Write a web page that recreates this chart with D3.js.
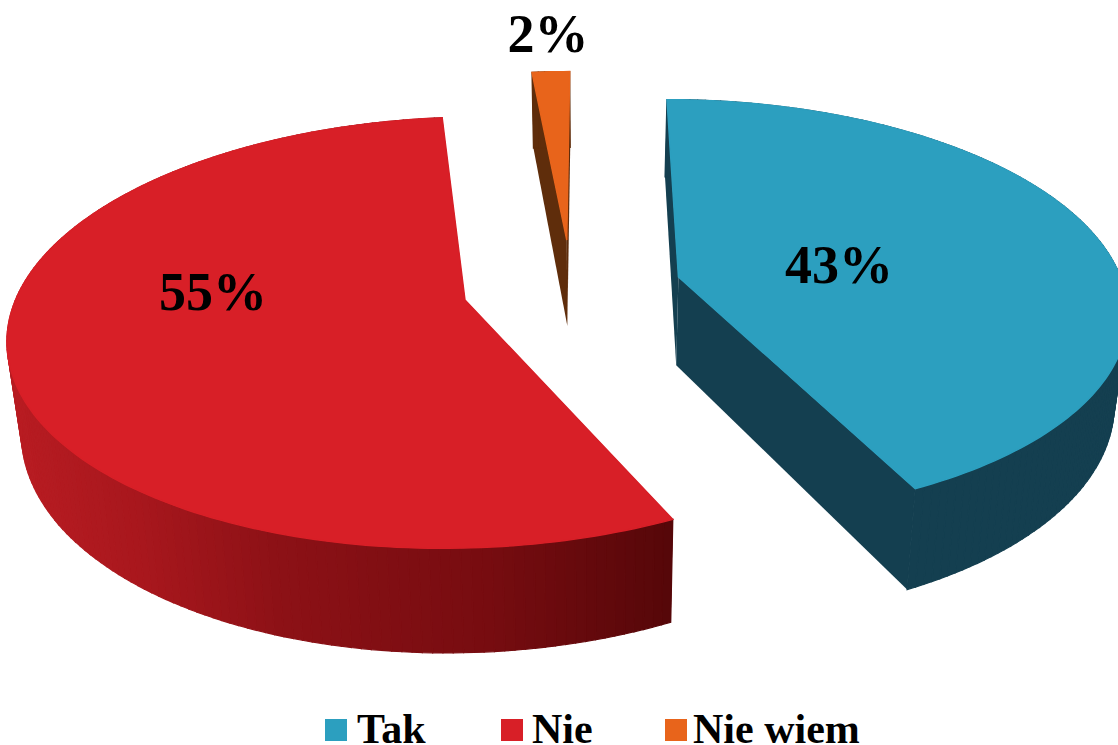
<!DOCTYPE html>
<html>
<head>
<meta charset="utf-8">
<script src="https://cdn.jsdelivr.net/npm/d3@7"></script>
<style>
  html, body { margin: 0; padding: 0; background: #fff; }
  svg { display: block; }
  text { font-family: "Liberation Serif", serif; font-weight: bold; fill: #000; }
</style>
</head>
<body>
<svg></svg>
<script>
let categories = ["Tak", "Nie", "Nie wiem"];
let values = [42.8, 55.6, 1.6];
let percentLabels = ["43%", "55%", "2%"];
let topColors = ["#2c9fbf", "#d81f27", "#e8641b"];

let width = 1118;
let height = 745;

let svg = d3.select("svg").attr("width", width).attr("height", height);

// perspective of the two planes (top face, bottom face)
let persp = 0.15;
let radiusX = 445;
let centerX = 590;
let topPlane = { cy: 286, qy: 206.5, sx: 1 };
let bottomPlane = { cy: 374.7, qy: 219, sx: 0.975 };

// where each slice was pulled out to, in units of the radius
let explode = [
  [0.2, -0.044],
  [-0.278, 0.067],
  [-0.054, -0.23],
];

let labelPos = [
  [839, 283],
  [213, 310],
  [548, 52],
];

let project = (x, y, plane) => {
  let w = 1 - persp * y;
  return [
    centerX + (plane.sx * radiusX * x) / w,
    plane.cy + (plane.qy * y) / w,
  ];
};

let redSide = d3
  .scaleLinear()
  .domain([25, 150, 290, 500, 672])
  .range(["#b81c22", "#a8171d", "#8c1116", "#760c10", "#560709"]);

let wallColor = (i, sx) => {
  if (i === 0) return "#143f50";
  if (i === 1) return redSide(sx);
  return "#5f2d0b";
};

let pie = d3
  .pie()
  .sort(null)
  .startAngle(0)
  .endAngle(2 * Math.PI);

let slices = pie(values);
let line = d3.line();

let arcPoints = (d, i) => {
  let n = Math.max(2, Math.ceil((d.endAngle - d.startAngle) / 0.02));
  let angles = d3.range(n + 1).map((k) => {
    return d.startAngle + ((d.endAngle - d.startAngle) * k) / n;
  });
  return angles.map((a) => {
    return [explode[i][0] + Math.sin(a), explode[i][1] - Math.cos(a)];
  });
};

slices.forEach((d, i) => {
  let g = svg.append("g").attr("class", "slice");
  let pts = arcPoints(d, i);
  let apex = explode[i];

  // the two straight cut walls go first, the outer wall covers them
  let edges = [pts[0], pts[pts.length - 1]];
  g.selectAll("path.cut")
    .data(edges)
    .enter()
    .append("path")
    .attr("class", "cut")
    .attr("d", (e) => {
      return (
        line([
          project(apex[0], apex[1], topPlane),
          project(e[0], e[1], topPlane),
          project(e[0], e[1], bottomPlane),
          project(apex[0], apex[1], bottomPlane),
        ]) + "Z"
      );
    })
    .attr("fill", (e) => wallColor(i, project(e[0], e[1], bottomPlane)[0]));

  // outer wall, one strip per small angle step
  let strips = d3.pairs(pts);
  g.selectAll("path.wall")
    .data(strips)
    .enter()
    .append("path")
    .attr("class", "wall")
    .attr("d", (s) => {
      return (
        line([
          project(s[0][0], s[0][1], topPlane),
          project(s[1][0], s[1][1], topPlane),
          project(s[1][0], s[1][1], bottomPlane),
          project(s[0][0], s[0][1], bottomPlane),
        ]) + "Z"
      );
    })
    .attr("fill", (s) => wallColor(i, project(s[0][0], s[0][1], bottomPlane)[0]))
    .attr("stroke", (s) => wallColor(i, project(s[0][0], s[0][1], bottomPlane)[0]))
    .attr("stroke-width", 1.2);

  // top face, stroked so the wall strips do not show round its back edge
  let face = [apex].concat(pts).map((p) => project(p[0], p[1], topPlane));
  g.append("path")
    .attr("class", "top")
    .attr("d", line(face) + "Z")
    .attr("fill", topColors[i])
    .attr("stroke", topColors[i])
    .attr("stroke-width", 1.4);
});

svg
  .selectAll("text.pct")
  .data(percentLabels)
  .enter()
  .append("text")
  .attr("class", "pct")
  .attr("x", (d, i) => labelPos[i][0])
  .attr("y", (d, i) => labelPos[i][1])
  .attr("text-anchor", "middle")
  .attr("font-size", 54)
  .text((d) => d);

// legend
let legendX = [325, 501, 665];
let legendTextX = [357, 532, 693];
let legendY = 719;

svg
  .selectAll("rect.legend")
  .data(categories)
  .enter()
  .append("rect")
  .attr("class", "legend")
  .attr("x", (d, i) => legendX[i])
  .attr("y", legendY)
  .attr("width", 22)
  .attr("height", 22)
  .attr("fill", (d, i) => topColors[i]);

svg
  .selectAll("text.legend")
  .data(categories)
  .enter()
  .append("text")
  .attr("class", "legend")
  .attr("x", (d, i) => legendTextX[i])
  .attr("y", 743)
  .attr("font-size", 42)
  .text((d) => d);
</script>
</body>
</html>
